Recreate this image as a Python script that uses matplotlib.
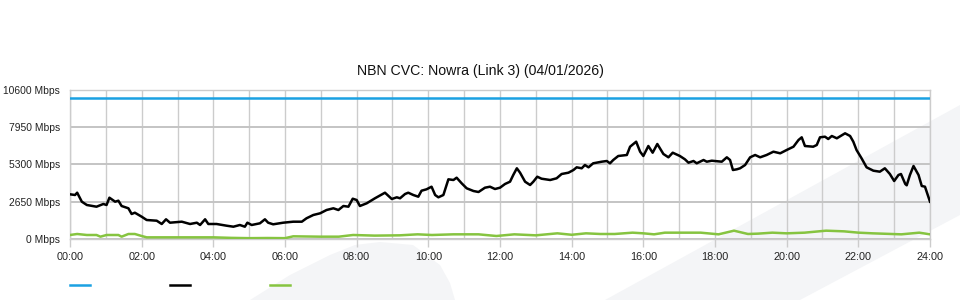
import numpy as np
import matplotlib.pyplot as plt
from matplotlib.patches import Polygon
from matplotlib.lines import Line2D

plt.rcParams['font.family'] = ['Liberation Sans', 'DejaVu Sans']

#------------------data------------------

title = "NBN CVC: Nowra (Link 3) (04/01/2026)"

y_ticks = [0, 2650, 5300, 7950, 10600]
y_labels = ["0 Mbps", "2650 Mbps", "5300 Mbps", "7950 Mbps", "10600 Mbps"]
x_ticks = list(range(0, 25, 2))
x_labels = ["%02d:00" % h for h in x_ticks]

capacity_hours = [0, 24]
capacity_mbps = [10000, 10000]

# black series (hour, Mbps)
out_hours = [0, 0.14, 0.20, 0.33, 0.47, 0.74, 0.93, 1.02, 1.10, 1.26, 1.35, 1.44,
             1.63, 1.72, 1.81, 2.0, 2.14, 2.42, 2.56, 2.68, 2.79, 3.12, 3.35, 3.54,
             3.63, 3.77, 3.86, 4.09, 4.37, 4.56, 4.74, 4.88, 4.95, 5.07, 5.21, 5.30,
             5.44, 5.53, 5.67, 5.95, 6.23, 6.47, 6.60, 6.79, 6.98, 7.16, 7.35, 7.49,
             7.63, 7.77, 7.89, 8.0, 8.09, 8.28, 8.51, 8.79, 8.98, 9.12, 9.21, 9.35,
             9.44, 9.58, 9.72, 9.81, 9.95, 10.09, 10.19, 10.28, 10.42, 10.56, 10.70,
             10.79, 10.93, 11.07, 11.26, 11.40, 11.58, 11.72, 11.86, 12.0, 12.14,
             12.28, 12.37, 12.47, 12.56, 12.70, 12.84, 12.93, 13.04, 13.16, 13.40,
             13.58, 13.72, 13.91, 14.05, 14.14, 14.28, 14.37, 14.47, 14.60, 14.84,
             14.98, 15.07, 15.16, 15.30, 15.54, 15.63, 15.80, 15.91, 16.0, 16.14,
             16.26, 16.39, 16.56, 16.70, 16.82, 17.02, 17.16, 17.26, 17.40, 17.49,
             17.68, 17.77, 17.91, 18.19, 18.33, 18.42, 18.50, 18.61, 18.70, 18.84,
             18.98, 19.12, 19.26, 19.44, 19.63, 19.82, 20.0, 20.19, 20.33, 20.42,
             20.51, 20.74, 20.84, 20.93, 21.07, 21.16, 21.26, 21.40, 21.63, 21.77,
             21.86, 21.95, 22.09, 22.23, 22.42, 22.60, 22.74, 22.88, 23.0, 23.12,
             23.19, 23.31, 23.35, 23.44, 23.54, 23.68, 23.77, 23.86, 24.0]
out_mbps = [3169, 3120, 3283, 2645, 2411, 2290, 2482, 2411, 2928, 2645, 2716, 2340,
            2177, 1773, 1865, 1581, 1347, 1297, 1064, 1397, 1156, 1227, 1064, 1156,
            993, 1397, 1064, 1064, 943, 872, 993, 872, 1156, 993, 1064, 1113,
            1397, 1156, 1042, 1156, 1227, 1227, 1468, 1702, 1822, 2056, 2177, 2056,
            2340, 2290, 2857, 2765, 2340, 2531, 2886, 3283, 2836, 2956, 2886, 3190,
            3283, 3120, 2999, 3424, 3524, 3708, 3120, 2956, 3120, 4233, 4183,
            4346, 3949, 3595, 3403, 3332, 3637, 3708, 3545, 3637, 3900,
            4063, 4538, 5013, 4701, 4063, 3829, 4063, 4417, 4275, 4183,
            4304, 4609, 4701, 4892, 5083, 5013, 5247, 5083, 5367, 5481,
            5530, 5367, 5601, 5885, 5956, 6544, 6899, 6190, 5885, 6594,
            6119, 6736, 6027, 5792, 6119, 5885, 5651, 5410, 5530, 5367,
            5601, 5481, 5551, 5481, 5792, 5601, 4892, 4942, 5013, 5247,
            5792, 5956, 5792, 5956, 6190, 6076, 6310, 6544, 7019, 7210,
            6594, 6544, 6665, 7210, 7253, 7090, 7303, 7140, 7494, 7303,
            6899, 6310, 5722, 5083, 4843, 4772, 5013, 4609, 4112, 4538,
            4609, 3900, 3808, 4538, 5176, 4538, 3758, 3708, 2645]

# green series (hour, Mbps)
in_hours = [0, 0.2, 0.47, 0.74, 0.85, 1.02, 1.35, 1.44, 1.63, 1.81, 2.0, 2.14,
            3.0, 4.0, 4.5, 5.0, 5.5, 6.0, 6.23, 6.98, 7.5, 7.9, 8.5, 9.2, 9.7,
            10.1, 10.7, 11.4, 11.9, 12.4, 13.0, 13.6, 14.0, 14.4, 14.8, 15.2, 15.7,
            16.0, 16.3, 16.6, 17.6, 18.1, 18.53, 18.92, 19.2, 19.6, 20.0, 20.5,
            21.1, 21.6, 22.0, 22.4, 23.2, 23.7, 24.0]
in_mbps = [284, 355, 284, 284, 165, 284, 284, 165, 355, 355, 213, 118,
           118, 118, 80, 60, 70, 60, 190, 165, 165, 284, 240, 260, 331,
           284, 331, 331, 213, 331, 260, 402, 300, 402, 355, 355, 449,
           402, 331, 449, 449, 331, 590, 355, 380, 449, 402, 449,
           590, 543, 450, 402, 331, 449, 331]

#------------------figure------------------

fig = plt.figure(figsize=(9.6, 3.0), dpi=100)
fig.patch.set_facecolor('white')

W, H = 960.0, 300.0
def fxy(pts):
    return [(x / W, 1 - y / H) for x, y in pts]

# faint background swoosh, kept behind the axes
swoosh = '#f4f5f7'
fig.patches.append(Polygon(fxy([(250, 300), (290, 275), (330, 255), (355, 245), (380, 242),
                                (413, 245), (440, 265), (450, 283), (455, 300)]),
                           closed=True, transform=fig.transFigure, facecolor=swoosh,
                           edgecolor='none', zorder=-10))
fig.patches.append(Polygon(fxy([(605, 300), (960, 105), (960, 215), (800, 300)]),
                           closed=True, transform=fig.transFigure, facecolor=swoosh,
                           edgecolor='none', zorder=-10))

ax = fig.add_axes([70 / W, 1 - 239 / H, 860 / W, 149.5 / H])
ax.set_facecolor('none')
ax.set_zorder(1)

ax.plot(capacity_hours, capacity_mbps, color='#1ba1e2', lw=1.8, zorder=4)
ax.plot(out_hours, out_mbps, color='#000000', lw=1.8, zorder=5)
ax.plot(in_hours, in_mbps, color='#86c440', lw=1.8, zorder=4)

ax.set_xlim(0, 24)
ax.set_ylim(0, 10600)
ax.set_yticks(y_ticks)
ax.set_yticklabels(y_labels)
ax.set_xticks(x_ticks)
ax.set_xticklabels(x_labels)
ax.set_xticks(range(0, 25), minor=True)

ax.grid(True, which='minor', axis='x', color='#cccccc', lw=1.0, zorder=1)
ax.grid(True, which='major', axis='x', color='#cccccc', lw=1.0, zorder=1)
ax.grid(True, which='major', axis='y', color='#c4c4c4', lw=1.4, zorder=1)

for s in ax.spines.values():
    s.set_color('#cccccc')
    s.set_linewidth(1.0)

ax.tick_params(axis='y', length=0, pad=7, labelsize=7.4, colors='#222222')
ax.tick_params(axis='x', which='major', length=6, width=1.0, color='#cccccc',
               pad=3, labelsize=7.8, labelcolor='#222222')
ax.tick_params(axis='x', which='minor', length=0)

fig.text(0.5, 1 - 71 / H, title, ha='center', va='center', fontsize=10.2, color='#111111')

# legend swatches (no labels)
for x0, c in [(70, '#1ba1e2'), (170, '#000000'), (270, '#86c440')]:
    fig.lines.append(Line2D([x0 / W, (x0 + 20) / W], [1 - 285 / H, 1 - 285 / H],
                            transform=fig.transFigure, color=c, lw=1.8))

plt.savefig("out.png", dpi=100, facecolor='white')
